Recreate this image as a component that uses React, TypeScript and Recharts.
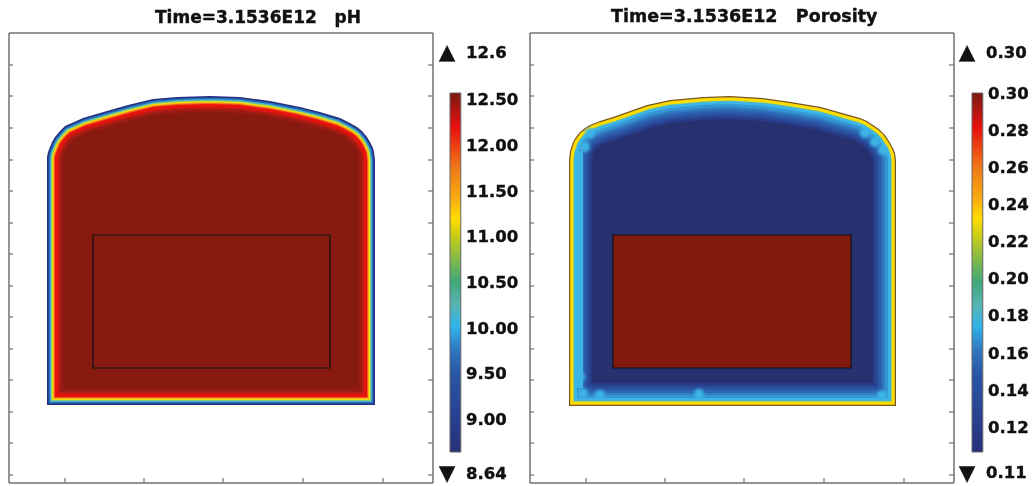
import { Area, Bar, ComposedChart, ReferenceArea, ReferenceLine, Scatter, XAxis, YAxis } from 'recharts'

// Values are read in image units measured from the frame's lower left corner
const xTicks = [56, 135, 214, 294, 374]
const yTicks = [8, 40, 71, 103, 134, 166, 197, 229, 260, 292, 323, 355, 387, 418]

const phOutlineX = [38, 38, 39, 41, 43, 46, 51, 56, 63, 74, 98, 119, 144, 168, 201, 231, 261, 291, 311, 331, 339, 348, 353, 358, 361, 364, 365, 366, 366, 38]
const phOutlineY = [78, 326, 331, 336, 341, 346, 352, 357, 360, 365, 372, 378, 384, 386, 387, 386, 382, 376, 371, 365, 361, 356, 352, 346, 341, 335, 331, 323, 78, 78]
const phBandWidths = [16, 13, 11, 8, 7, 6, 5, 4, 3]
const phBandColors = ['#9a1b11', '#bc1a12', '#e8120f', '#f05a18', '#f5b015', '#efe012', '#8cc870', '#38b0de', '#2a6cb4']
const phEdge = { width: 1.6, color: '#232f80' }
const phRect = { x1: 84, x2: 321, y1: 115, y2: 248 }

const poOutlineX = [39, 39, 40, 43, 46, 50, 55, 60, 70, 83, 117, 140, 173, 200, 233, 261, 291, 330, 337, 343, 349, 355, 359, 363, 365, 366, 366, 39]
const poOutlineY = [77, 323, 332, 341, 346, 351, 355, 358, 362, 366, 378, 383, 386, 387, 385, 381, 376, 365, 362, 358, 354, 348, 342, 335, 330, 323, 77, 77]
const poBlueWidths = [23, 21, 19, 17, 15, 13, 11]
const poBlueColors = ['#283b88', '#294593', '#2a509f', '#2b5cab', '#2d6ab6', '#2f7cc4', '#3494d4']
const poCyanWidths = [8, 5.2, 4.4, 1.2]
const poCyanColors = ['#3db4e6', '#62c0a8', '#ffdc00', '#7a5520']
const poLeftWallX = [46, 46]
const poLeftWallY = [95, 332]
const poBlobs = [
  { x: 60, y: 350 }, { x: 55, y: 336 }, { x: 50, y: 106 }, { x: 53, y: 90 }, { x: 70, y: 88 },
  { x: 169, y: 89 }, { x: 352, y: 88 }, { x: 335, y: 350 }, { x: 345, y: 341 }, { x: 353, y: 333 },
]
const poRect = { x1: 83, x2: 321, y1: 115, y2: 248 }

const phScaleTicks = [9, 9.5, 10, 10.5, 11, 11.5, 12, 12.5]
const poScaleTicks = [0.12, 0.14, 0.16, 0.18, 0.2, 0.22, 0.24, 0.26, 0.28, 0.3]
const barStops = [0, 0.095, 0.21, 0.3, 0.35, 0.4, 0.526, 0.59, 0.65, 0.716, 0.78, 0.905, 1]
const barColors = ['#7a1a12', '#e8100f', '#f07a18', '#f8b010', '#ffdd00', '#c6cc18', '#3fa878', '#58b4b4', '#30b4ea', '#2f77bf', '#2a57a6', '#27408f', '#28307a']

const FONT = '"DejaVu Sans", sans-serif'

function toRows(xs: number[], ys: number[]) {
  return xs.map((x, i) => ({ x, y: ys[i] }))
}

// white over everything outside the outline, the wide strokes spill out otherwise
function outsideRows(xs: number[], ys: number[]) {
  const dome = xs.slice(1, xs.length - 2).map((x, i) => ({ x, y: [ys[i + 1], 450] }))
  return [{ x: 0, y: [0, 450] }, { x: dome[0].x, y: [0, 450] }, ...dome, { x: dome[dome.length - 1].x, y: [0, 450] }, { x: 424, y: [0, 450] }]
}

function Band({ rows, width, color, fill }: any) {
  return (
    <Area
      key={`${color}-${width}`}
      xAxisId="b"
      yAxisId="l"
      data={rows}
      dataKey="y"
      type="linear"
      baseValue={rows[0].y}
      stroke={color}
      strokeWidth={width}
      fill={fill || 'none'}
      fillOpacity={1}
      dot={false}
      activeDot={false}
      isAnimationActive={false}
    />
  )
}

const noLabel = () => <g />

function Panel({ left, xs, ys, inner, bands, rect, rectFill }: any) {
  const rows = toRows(xs, ys)
  const bottom = ys[0]
  const axis = { stroke: '#707070', strokeWidth: 1.5 }
  const tickLine = { stroke: '#707070', strokeWidth: 1.2 }
  return (
    <div style={{ position: 'absolute', left, top: 32 }}>
      <ComposedChart width={426} height={452} margin={{ top: 1, right: 1, bottom: 1, left: 1 }}>
        {Band({ rows, width: 0, color: inner, fill: inner })}
        {bands(rows)}
        <Area xAxisId="b" yAxisId="l" data={outsideRows(xs, ys)} dataKey="y" type="linear" stroke="none" fill="#fff" fillOpacity={1} dot={false} activeDot={false} isAnimationActive={false} />
        <Area xAxisId="b" yAxisId="l" data={[{ x: xs[0] - 1, y: [0, bottom] }, { x: xs[xs.length - 3] + 1, y: [0, bottom] }]} dataKey="y" type="linear" stroke="none" fill="#fff" fillOpacity={1} dot={false} activeDot={false} isAnimationActive={false} />
        <ReferenceArea xAxisId="b" yAxisId="l" {...rect} fill={rectFill} fillOpacity={1} stroke="#111" strokeWidth={1.2} />
        {/* the mirrored right axis would not draw its ticks, so they are segments */}
        {yTicks.map((t) => (
          <ReferenceLine
            key={t}
            xAxisId="b"
            yAxisId="l"
            segment={[{ x: 419, y: t }, { x: 424, y: t }]}
            stroke="#707070"
            strokeWidth={1.2}
          />
        ))}
        <XAxis xAxisId="b" dataKey="x" type="number" domain={[0, 424]} ticks={xTicks} orientation="bottom" mirror height={1} tick={noLabel} tickSize={5} axisLine={axis} tickLine={tickLine} />
        <XAxis xAxisId="t" dataKey="x" type="number" domain={[0, 424]} ticks={xTicks} orientation="top" mirror height={1} tick={noLabel} tickSize={5} axisLine={axis} tickLine={tickLine} />
        <YAxis yAxisId="l" type="number" domain={[0, 450]} ticks={yTicks} orientation="left" mirror width={1} tick={noLabel} tickSize={4} axisLine={axis} tickLine={tickLine} />
        <YAxis yAxisId="r" type="number" domain={[0, 450]} orientation="right" mirror width={1} tick={false} axisLine={axis} tickLine={false} />
      </ComposedChart>
    </div>
  )
}

function ColorBar({ left, width, id, domain, ticks, digits }: any) {
  return (
    <div style={{ position: 'absolute', left, top: 83 }}>
      <ComposedChart width={width} height={379} margin={{ top: 10, right: 0, bottom: 10, left: 0 }} data={[{ name: id, range: domain }]}>
        <defs>
          <linearGradient id={id} x1="0" y1="0" x2="0" y2="1">
            {barStops.map((s, i) => (
              <stop key={s} offset={s} stopColor={barColors[i]} />
            ))}
          </linearGradient>
        </defs>
        <XAxis dataKey="name" hide />
        <YAxis
          type="number"
          domain={domain}
          ticks={ticks}
          orientation="right"
          width={width - 12}
          interval={0}
          axisLine={false}
          tickLine={false}
          tickSize={0}
          tickMargin={5}
          tickFormatter={(v: number) => v.toFixed(digits)}
          tick={{ fill: '#111', stroke: '#111', strokeWidth: 0.4, fontFamily: FONT, fontWeight: 700, fontSize: 16.5, textAnchor: 'start' }}
        />
        <Bar dataKey="range" barSize={12} fill={`url(#${id})`} stroke="#666" isAnimationActive={false} />
      </ComposedChart>
    </div>
  )
}

function Note({ x, y, text, size }: { x: number; y: number; text: string; size?: number }) {
  return (
    <div style={{ position: 'absolute', left: x, top: y, transform: 'translateY(-50%)', font: `700 ${size || 16.5}px ${FONT}`, color: '#111', whiteSpace: 'pre', lineHeight: 1, WebkitTextStroke: '0.4px #111' }}>
      {text}
    </div>
  )
}

export default function App() {
  return (
    <div style={{ position: 'absolute', left: 0, top: 0, width: 1033, height: 486, overflow: 'hidden', background: '#fff', filter: 'blur(0.5px)' }}>
      <Panel
        left={8}
        xs={phOutlineX}
        ys={phOutlineY}
        inner="#861a10"
        rect={phRect}
        rectFill="#861a10"
        bands={(rows: any) => [
          ...phBandWidths.map((d, i) => Band({ rows, width: d * 2, color: phBandColors[i] })),
          Band({ rows, width: phEdge.width * 2, color: phEdge.color }),
        ]}
      />
      <Panel
        left={529}
        xs={poOutlineX}
        ys={poOutlineY}
        inner="#28316f"
        rect={poRect}
        rectFill="#821a10"
        bands={(rows: any) => [
          ...poBlueWidths.map((d, i) => Band({ rows, width: d * 2, color: poBlueColors[i] })),
          Band({ rows: toRows(poLeftWallX, poLeftWallY), width: 14, color: '#3db4e6' }),
          <Scatter
            key="blobs"
            xAxisId="b"
            yAxisId="l"
            data={poBlobs}
            dataKey="y"
            fill="#3db4e6"
            isAnimationActive={false}
            shape={(p: any) => <circle cx={p.cx} cy={p.cy} r={5} fill="#3db4e6" style={{ filter: 'blur(1.5px)' }} />}
          />,
          ...poCyanWidths.map((d, i) => Band({ rows, width: d * 2, color: poCyanColors[i] })),
        ]}
      />
      <Note x={155} y={17} text={'Time=3.1536E12   pH'} size={17} />
      <Note x={611} y={17} text={'Time=3.1536E12   Porosity'} size={17.5} />

      <ColorBar left={449} width={84} id="phBar" domain={[8.64, 12.57]} ticks={phScaleTicks} digits={2} />
      <Note x={439} y={52} text="▲" size={21} />
      <Note x={466} y={53} text="12.6" />
      <Note x={439} y={473} text="▼" size={21} />
      <Note x={466} y={474} text="8.64" />

      <ColorBar left={971} width={62} id="poBar" domain={[0.1065, 0.3]} ticks={poScaleTicks} digits={2} />
      <Note x={959} y={52} text="▲" size={21} />
      <Note x={986} y={53} text="0.30" />
      <Note x={959} y={473} text="▼" size={21} />
      <Note x={986} y={473} text="0.11" />
    </div>
  )
}
